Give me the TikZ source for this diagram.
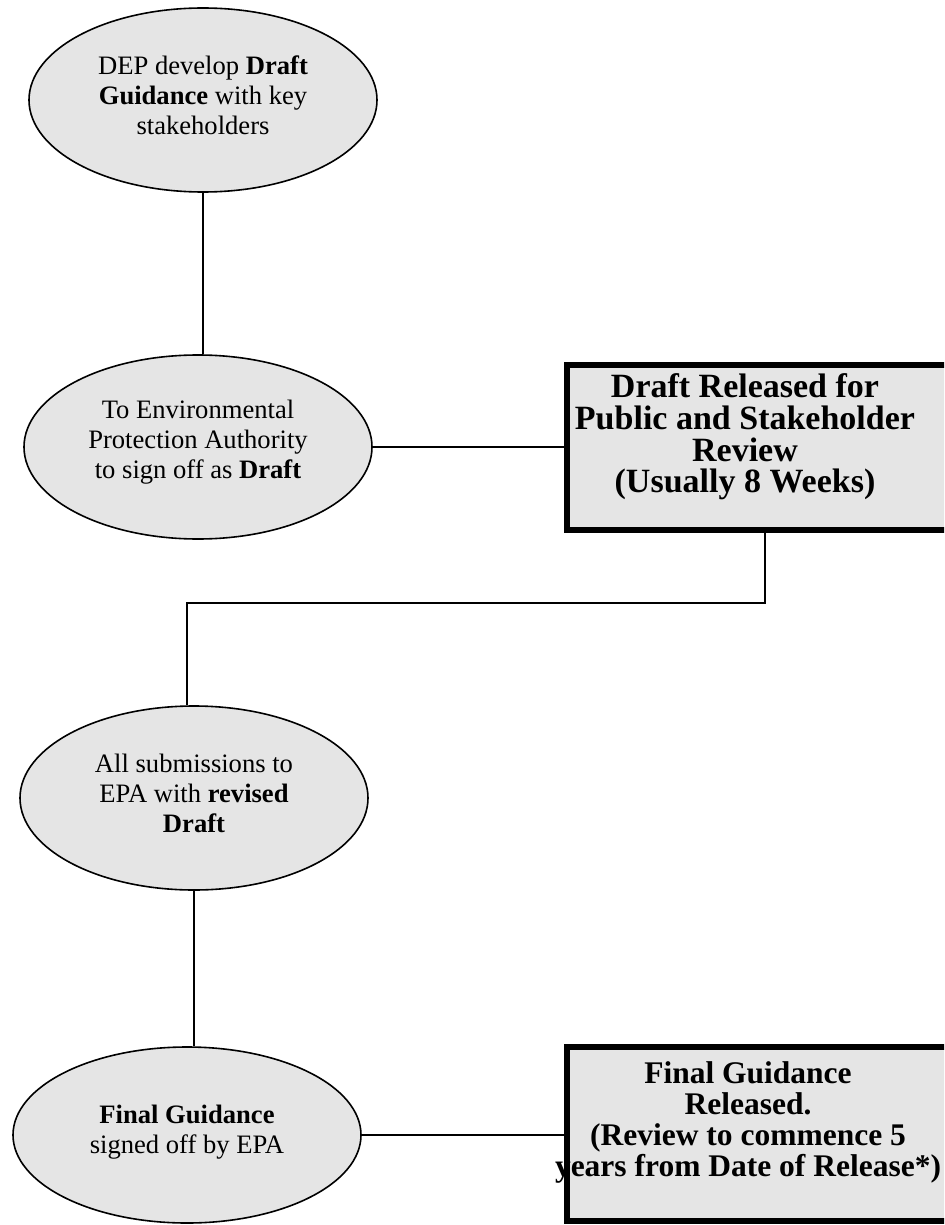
\documentclass[tikz,border=0pt]{standalone}
\usepackage{fontspec}
\setmainfont{Liberation Serif}
\usetikzlibrary{shapes.geometric}
\usepackage{xcolor}
\definecolor{stagegray}{rgb}{0.9,0.9,0.9}

\begin{document}
\begin{tikzpicture}[x=0.5pt,y=-0.5pt,
        stage/.style = {ellipse, draw, line width=0.8pt, fill=stagegray,
                        minimum width=174pt, minimum height=92pt, inner sep=0pt},
        stagetext/.style = {align=center, font=\fontsize{13.3}{15}\selectfont},
        release/.style = {rectangle, draw, line width=2.8pt, fill=stagegray,
                          minimum width=210pt, inner sep=0pt},
        releasetext/.style = {align=center, font=\bfseries\fontsize{17}{15.8}\selectfont},
        link/.style = {line width=1.1pt}]
        \clip (0,0) rectangle (944,1225);
        % process stages
        \node[stage](dev) at (203,100){};
        \node[stage](signoff) at (198,447){};
        \node[stage](submit) at (194,798){};
        \node[stage, minimum height=88pt](final) at (187,1135){};
        % releases
        \node[release, minimum height=82.5pt](draftrel) at (777,447.5){};
        \node[release, minimum height=87pt](finalrel) at (777,1134){};
        % texts
        \node[stagetext](devtext) at ([yshift=2.5pt]dev){DEP develop \textbf{Draft}\\ \textbf{Guidance} with key\\ stakeholders};
        \node[stagetext](signofftext) at ([yshift=2.5pt]signoff){To Environmental\\ Protection Authority\\ to sign off as \textbf{Draft}};
        \node[stagetext](submittext) at ([yshift=2.5pt]submit){All submissions to\\ EPA with \textbf{revised}\\ \textbf{Draft}};
        \node[stagetext](finaltext) at ([yshift=1.5pt]final){\textbf{Final Guidance}\\ signed off by EPA};
        \node[releasetext](draftreltext) at (745,437){Draft Released for\\ Public and Stakeholder\\ Review\\ (Usually 8 Weeks)};
        \node[releasetext, font=\bfseries\fontsize{15.75}{15.5}\selectfont](finalreltext) at (748,1122){Final Guidance\\ Released.\\ (Review to commence 5\\ years from Date of Release*)};
        % connectors
        \coordinate (turn) at (187,603);
        \draw[link] (dev.south) -- (dev.south |- signoff.north);
        \draw[link] (signoff.east) -- (signoff.east -| draftrel.west);
        \draw[link] ([xshift=-6pt]draftrel.south) |- (turn) -- (turn |- submit.north);
        \draw[link] (submit.south) -- (submit.south |- final.north);
        \draw[link] (final.east) -- (final.east -| finalrel.west);
    \end{tikzpicture}
\end{document}
